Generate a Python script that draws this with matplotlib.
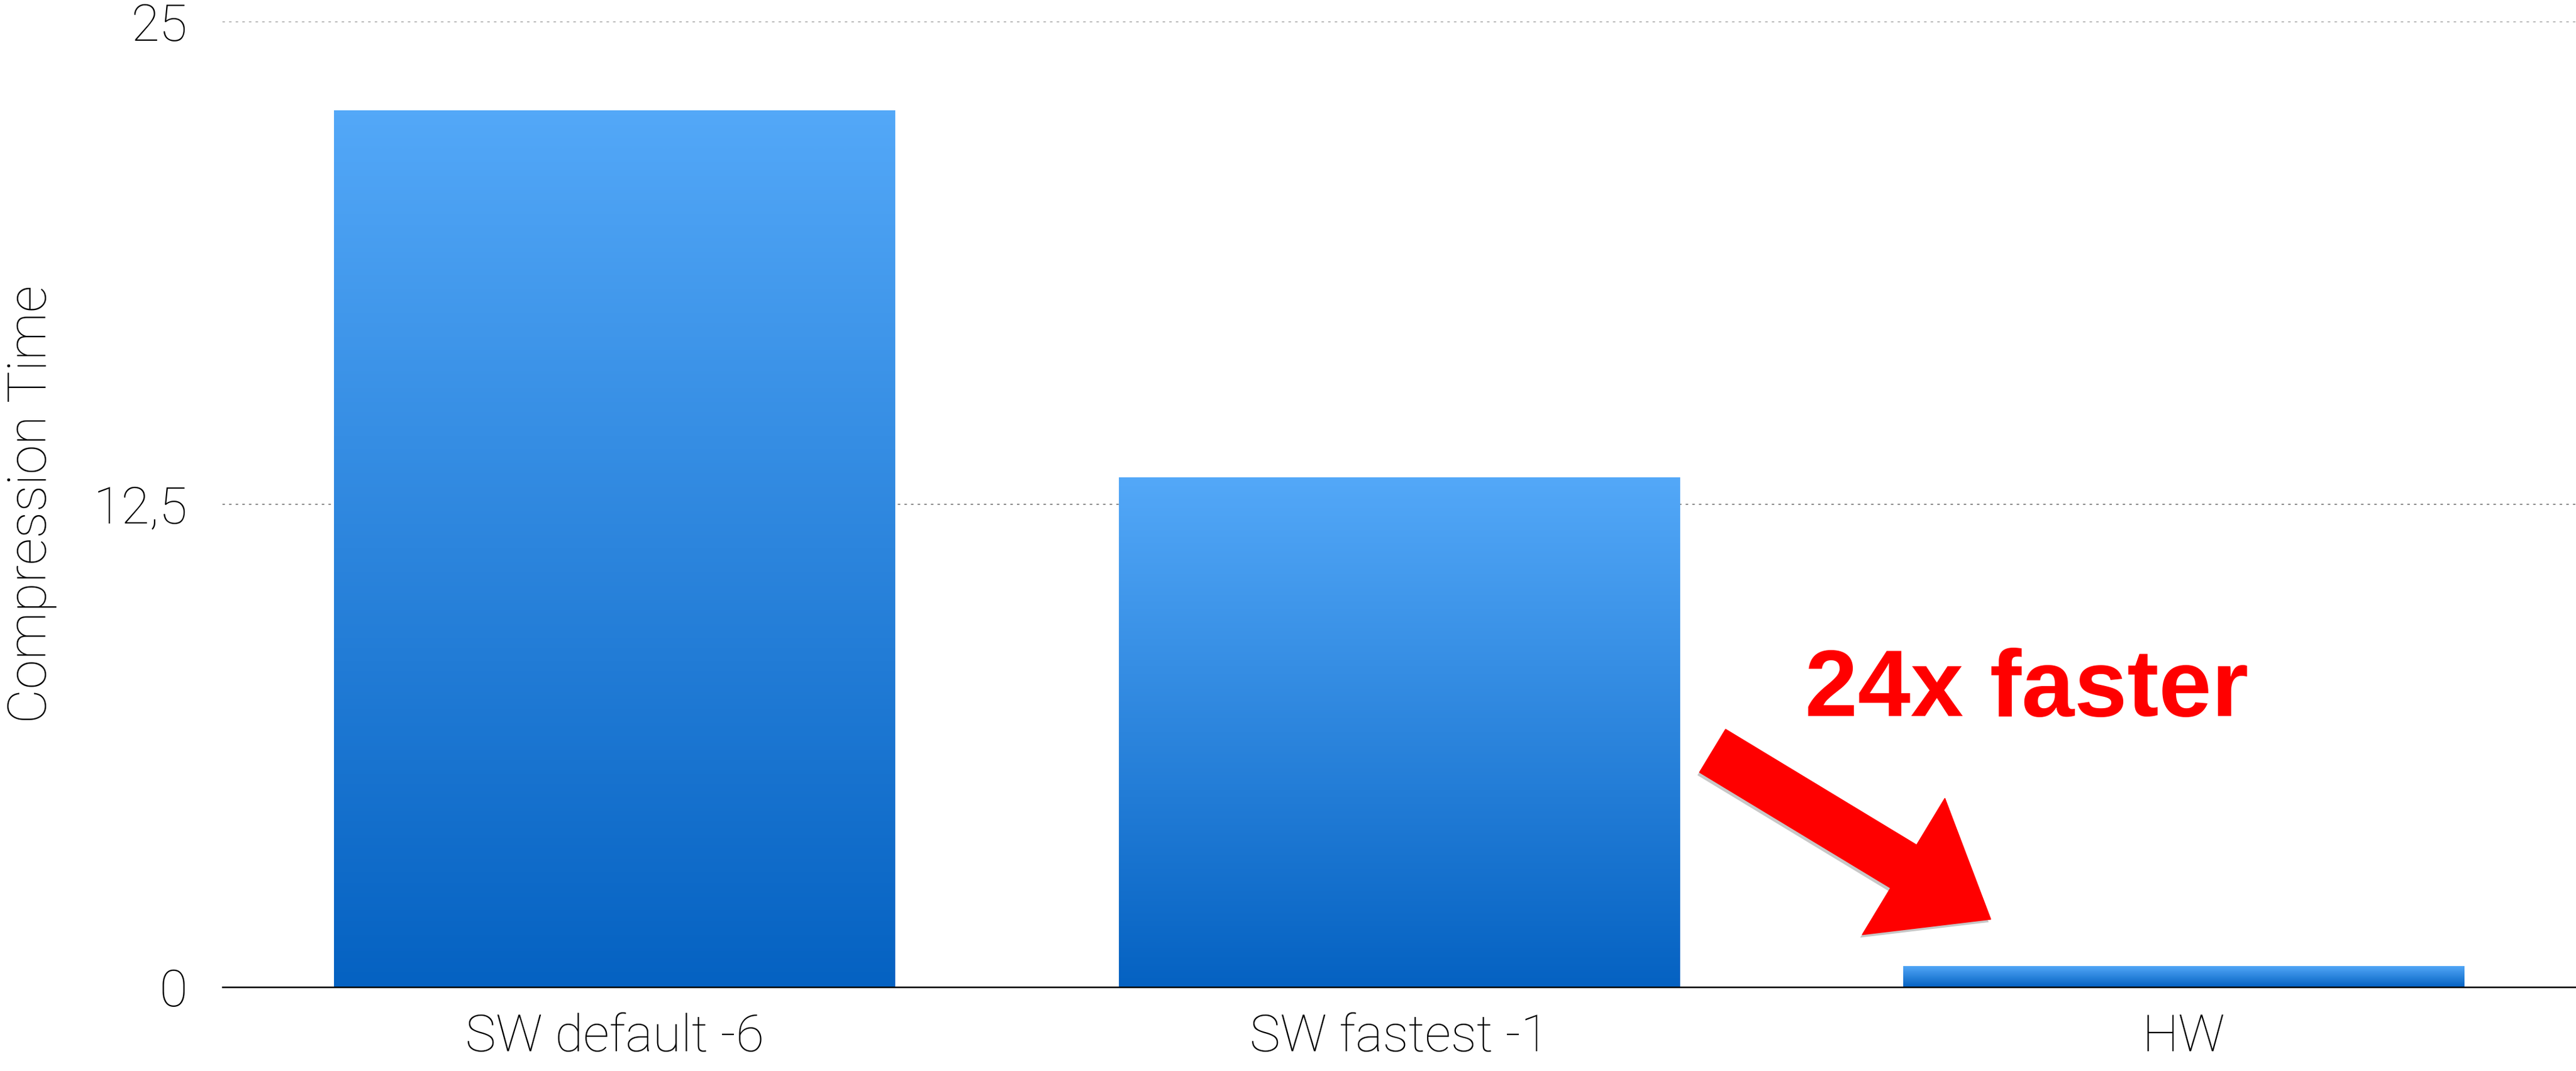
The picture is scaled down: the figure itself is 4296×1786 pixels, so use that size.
import numpy as np
import matplotlib
matplotlib.use("Agg")
import matplotlib.pyplot as plt
from matplotlib.colors import LinearSegmentedColormap
from matplotlib.patches import FancyArrow
import matplotlib.patheffects as pe

# Data
categories = ["SW default -6", "SW fastest -1", "HW"]
compression_time = [22.7, 13.2, 0.55]
y_ticks = [0, 12.5, 25]
y_tick_labels = ["0", "12,5", "25"]

W, H, DPI = 4296, 1786, 100
fig = plt.figure(figsize=(W / DPI, H / DPI), dpi=DPI)
fig.patch.set_facecolor("white")

# axes placement in pixels
ax_left, ax_right, ax_top, ax_bottom = 371, 4296, 35.7, 1646
ax = fig.add_axes([ax_left / W, 1 - ax_bottom / H,
                   (ax_right - ax_left) / W, (ax_bottom - ax_top) / H])

light = dict(family="Roboto", weight="light", color="black")

x = np.arange(len(categories))
bar_w = 0.715
bars = ax.bar(x, compression_time, width=bar_w, color="none", edgecolor="none", zorder=3)

# vertical blue gradient inside each bar
cmap = LinearSegmentedColormap.from_list("bluegrad", ["#0562C2", "#53A8F8"])
grad = np.linspace(0, 1, 256).reshape(-1, 1)
for rect in bars:
    x0 = rect.get_x()
    x1 = x0 + rect.get_width()
    h = rect.get_height()
    im = ax.imshow(grad, extent=[x0, x1, 0, h], origin="lower", aspect="auto",
                   cmap=cmap, zorder=3, interpolation="bicubic")
    im.set_clip_path(rect)

ax.set_xlim(-0.5, len(categories) - 0.5)
ax.set_ylim(0, 25)

# grid lines (dotted) except at zero
for yv in y_ticks[1:]:
    ax.axhline(yv, color="#8c8c8c", lw=1.5, linestyle=(0, (2, 3.3)),
               dash_capstyle="butt", zorder=1)

for s in ["top", "right", "left"]:
    ax.spines[s].set_visible(False)
ax.spines["bottom"].set_linewidth(1.8)
ax.spines["bottom"].set_color("black")
ax.spines["bottom"].set_zorder(5)

ax.set_yticks(y_ticks)
ax.set_yticklabels(y_tick_labels, fontsize=62, **light)
ax.set_xticks(x)
ax.set_xticklabels(categories, fontsize=62, **light)
ax.tick_params(axis="y", length=0, pad=42)
ax.tick_params(axis="x", length=0, pad=31)

fig.text(53 / W, 1 - 841 / H, "Compression Time", rotation=90, ha="center",
         va="center", fontsize=64, **light)

# annotation
fig.text(3010 / W, 1 - 1194 / H, "24x faster", color="#FF0000", fontsize=114,
         fontweight="bold", family="Liberation Sans", ha="left", va="baseline")

arrow = FancyArrow(28.56, (H - 1252) / DPI, 4.64, -2.81, width=0.84,
                   head_width=2.66, head_length=1.70, length_includes_head=True,
                   color="#FF0000", transform=fig.dpi_scale_trans, zorder=10)
arrow.set_path_effects([pe.SimplePatchShadow(offset=(-2.5, -3.5), shadow_rgbFace="black",
                                             alpha=0.22), pe.Normal()])
fig.add_artist(arrow)

fig.savefig("out.png", dpi=DPI, facecolor="white")
